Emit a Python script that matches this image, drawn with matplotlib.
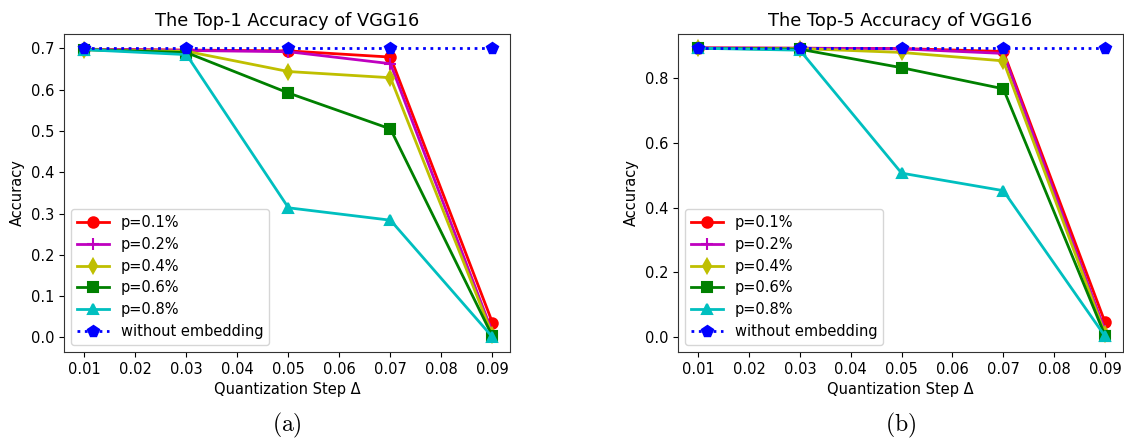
import matplotlib
matplotlib.use('Agg')
import matplotlib.pyplot as plt

plt.rcParams['mathtext.fontset'] = 'cm'

steps = [0.01, 0.03, 0.05, 0.07, 0.09]
labels = ['p=0.1%', 'p=0.2%', 'p=0.4%', 'p=0.6%', 'p=0.8%', 'without embedding']

# top-1 accuracy
top1_p01 = [0.698, 0.696, 0.694, 0.679, 0.036]
top1_p02 = [0.698, 0.695, 0.692, 0.663, 0.012]
top1_p04 = [0.697, 0.693, 0.644, 0.629, 0.006]
top1_p06 = [0.697, 0.690, 0.592, 0.505, 0.003]
top1_p08 = [0.697, 0.685, 0.314, 0.284, 0.001]
top1_base = [0.700, 0.700, 0.700, 0.700, 0.700]

# top-5 accuracy
top5_p01 = [0.892, 0.891, 0.890, 0.881, 0.046]
top5_p02 = [0.892, 0.891, 0.889, 0.875, 0.020]
top5_p04 = [0.891, 0.890, 0.878, 0.852, 0.010]
top5_p06 = [0.891, 0.888, 0.831, 0.766, 0.005]
top5_p08 = [0.891, 0.885, 0.506, 0.452, 0.003]
top5_base = [0.892, 0.892, 0.892, 0.892, 0.892]

styles = [('r', 'o'), ('m', '+'), ('y', 'd'), ('g', 's'), ('c', '^')]

fig = plt.figure(figsize=(11.24, 4.41), dpi=100)
ax1 = fig.add_axes([0.057, 0.202, 0.397, 0.721])
ax2 = fig.add_axes([0.603, 0.202, 0.396, 0.721])


def draw(ax, series, base, title, yticks, caption):
    for ys, (c, m), lab in zip(series, styles, labels):
        ms = 9 if m == '+' else 7.5
        ax.plot(steps, ys, color=c, marker=m, lw=2, ms=ms, mew=1.5, label=lab)
    ax.plot(steps, base, color='b', ls=':', lw=2, marker='p', ms=8.5, label=labels[-1])
    ax.set_title(title, fontsize=12.8)
    ax.set_xlabel('Quantization Step Δ', fontsize=10.5)
    ax.set_ylabel('Accuracy', fontsize=10.5)
    ax.set_xticks([0.01, 0.02, 0.03, 0.04, 0.05, 0.06, 0.07, 0.08, 0.09])
    ax.set_yticks(yticks)
    ax.tick_params(labelsize=10.5)
    ax.legend(loc='lower left', fontsize=10.5, handlelength=2.2,
              borderpad=0.4, labelspacing=0.46)
    for s in ax.spines.values():
        s.set_color('#333333')
    ax.text(0.5, -0.23, caption, transform=ax.transAxes, ha='center', va='center',
            fontsize=17)


draw(ax1, [top1_p01, top1_p02, top1_p04, top1_p06, top1_p08], top1_base,
     'The Top-1 Accuracy of VGG16', [0.0, 0.1, 0.2, 0.3, 0.4, 0.5, 0.6, 0.7], r'$\mathrm{(a)}$')
ax1.set_ylim(-0.035, 0.735)
ax1.set_xlim(0.006, 0.0935)

draw(ax2, [top5_p01, top5_p02, top5_p04, top5_p06, top5_p08], top5_base,
     'The Top-5 Accuracy of VGG16', [0.0, 0.2, 0.4, 0.6, 0.8], r'$\mathrm{(b)}$')
ax2.set_ylim(-0.045, 0.935)
ax2.set_xlim(0.006, 0.0935)

fig.savefig('out.png', dpi=100)
